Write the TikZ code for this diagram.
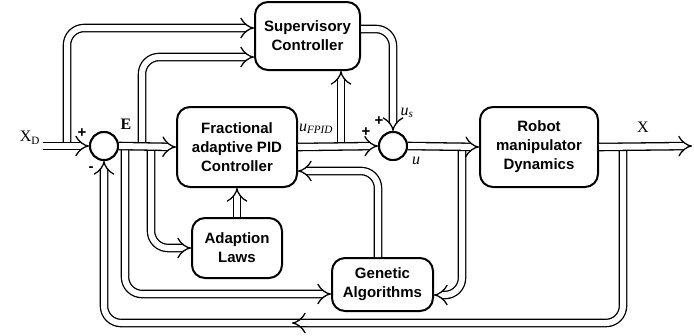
\documentclass[tikz,border=0pt]{standalone}
\usepackage{fontspec}
\setmainfont{Liberation Serif}
\setsansfont{Liberation Sans}
\usetikzlibrary{arrows.meta}
\tikzset{
  bus/.style={double, double distance=6pt, line width=1.3pt, rounded corners=17pt},
  busarrow/.style={bus, -{Implies}},
  blk/.style={draw, line width=2pt, rounded corners=13pt, align=center, fill=white,
    font=\sffamily\bfseries\fontsize{15}{19}\selectfont},
  sumc/.style={draw, circle, line width=2pt, minimum size=28pt, inner sep=0pt, fill=white},
  sgn/.style={font=\sffamily\bfseries\fontsize{15}{16}\selectfont, inner sep=0pt},
  lbl/.style={font=\fontsize{16}{18}\selectfont, inner sep=0pt}
}
\begin{document}
\begin{tikzpicture}[x=1pt,y=-1pt]
\useasboundingbox (0,0) rectangle (694,335);
% blocks
\node[blk, minimum width=105, minimum height=68] (sup) at (307.5,36) {Supervisory\\Controller};
\node[blk, minimum width=120, minimum height=80] (fp) at (237,147) {Fractional\\adaptive PID\\Controller};
\node[blk, minimum width=90, minimum height=60] (ad) at (237,248) {Adaption\\Laws};
\node[blk, minimum width=101, minimum height=53] (ga) at (382.5,284.5) {Genetic\\Algorithms};
\node[blk, minimum width=118, minimum height=80] (rb) at (539,147) {Robot\\manipulator\\Dynamics};
\node[sumc] (s1) at (104,146) {};
\node[sumc] (s2) at (393,146) {};
% coordinates
\coordinate (xd) at (43,146);
\coordinate (bxd) at (67,146);
\coordinate (bE1) at (125,146);
\coordinate (bE2) at (142,146);
\coordinate (bE3) at (151,146);
\coordinate (bu1) at (341,146);
\coordinate (bu2) at (462,146);
\coordinate (bx) at (623,146);
\coordinate (xo) at (692,146);
\coordinate (fb) at (104,323);
\coordinate (ma) at (306,323);
\coordinate (mb) at (292,323);
% branches (drawn first)
\draw[busarrow] (bxd) |- ([yshift=8pt]sup.west);
\draw[busarrow] (bE2) |- ([yshift=-21pt]sup.west);
\draw[busarrow] (bE3) |- (ad.west);
\draw[busarrow] (bE1) |- ([yshift=-9.5pt]ga.west);
\draw[busarrow] (bu1) -- (bu1 |- sup.south);
\draw[busarrow] ([yshift=7pt]sup.east) -| (s2.north);
\draw[busarrow] (bu2) |- ([yshift=-10.5pt]ga.east);
\draw[busarrow] (bx) |- (fb) -- (s1.south);
\draw[busarrow] (ma) -- (mb);
\draw[busarrow] ([xshift=-4.5pt]ga.north) |- ([yshift=-24pt]fp.east);
\draw[busarrow] (ad.north) -- (fp.south);
% main line
\draw[busarrow] (xd) -- (s1.west);
\draw[busarrow] (s1.east) -- (fp.west);
\draw[busarrow] (fp.east) -- (s2.west);
\draw[busarrow] (s2.east) -- (rb.west);
\draw[busarrow] (rb.east) -- (xo);
% redraw circles on top
\node[sumc] at (s1) {};
\node[sumc] at (s2) {};
% labels
\node[lbl] (lxd) at (30,138) {X\textsubscript{D}};
\node[sgn] (p1) at (82,133) {+};
\node[sgn] (m1) at (91,169) {-};
\node[lbl, font=\bfseries\fontsize{16}{18}\selectfont] (lE) at (126,124) {E};
\node[lbl] (lufp) at (316,129) {\textit{u}\textsubscript{\textit{FPID}}};
\node[sgn] (p2) at (366,132) {+};
\node[sgn] (p3) at (379,121) {+};
\node[lbl] (lus) at (407,113) {\textit{u}\textsubscript{\textit{s}}};
\node[lbl] (lu) at (416,161) {\textit{u}};
\node[lbl] (lX) at (643,127) {X};
\end{tikzpicture}
\end{document}
